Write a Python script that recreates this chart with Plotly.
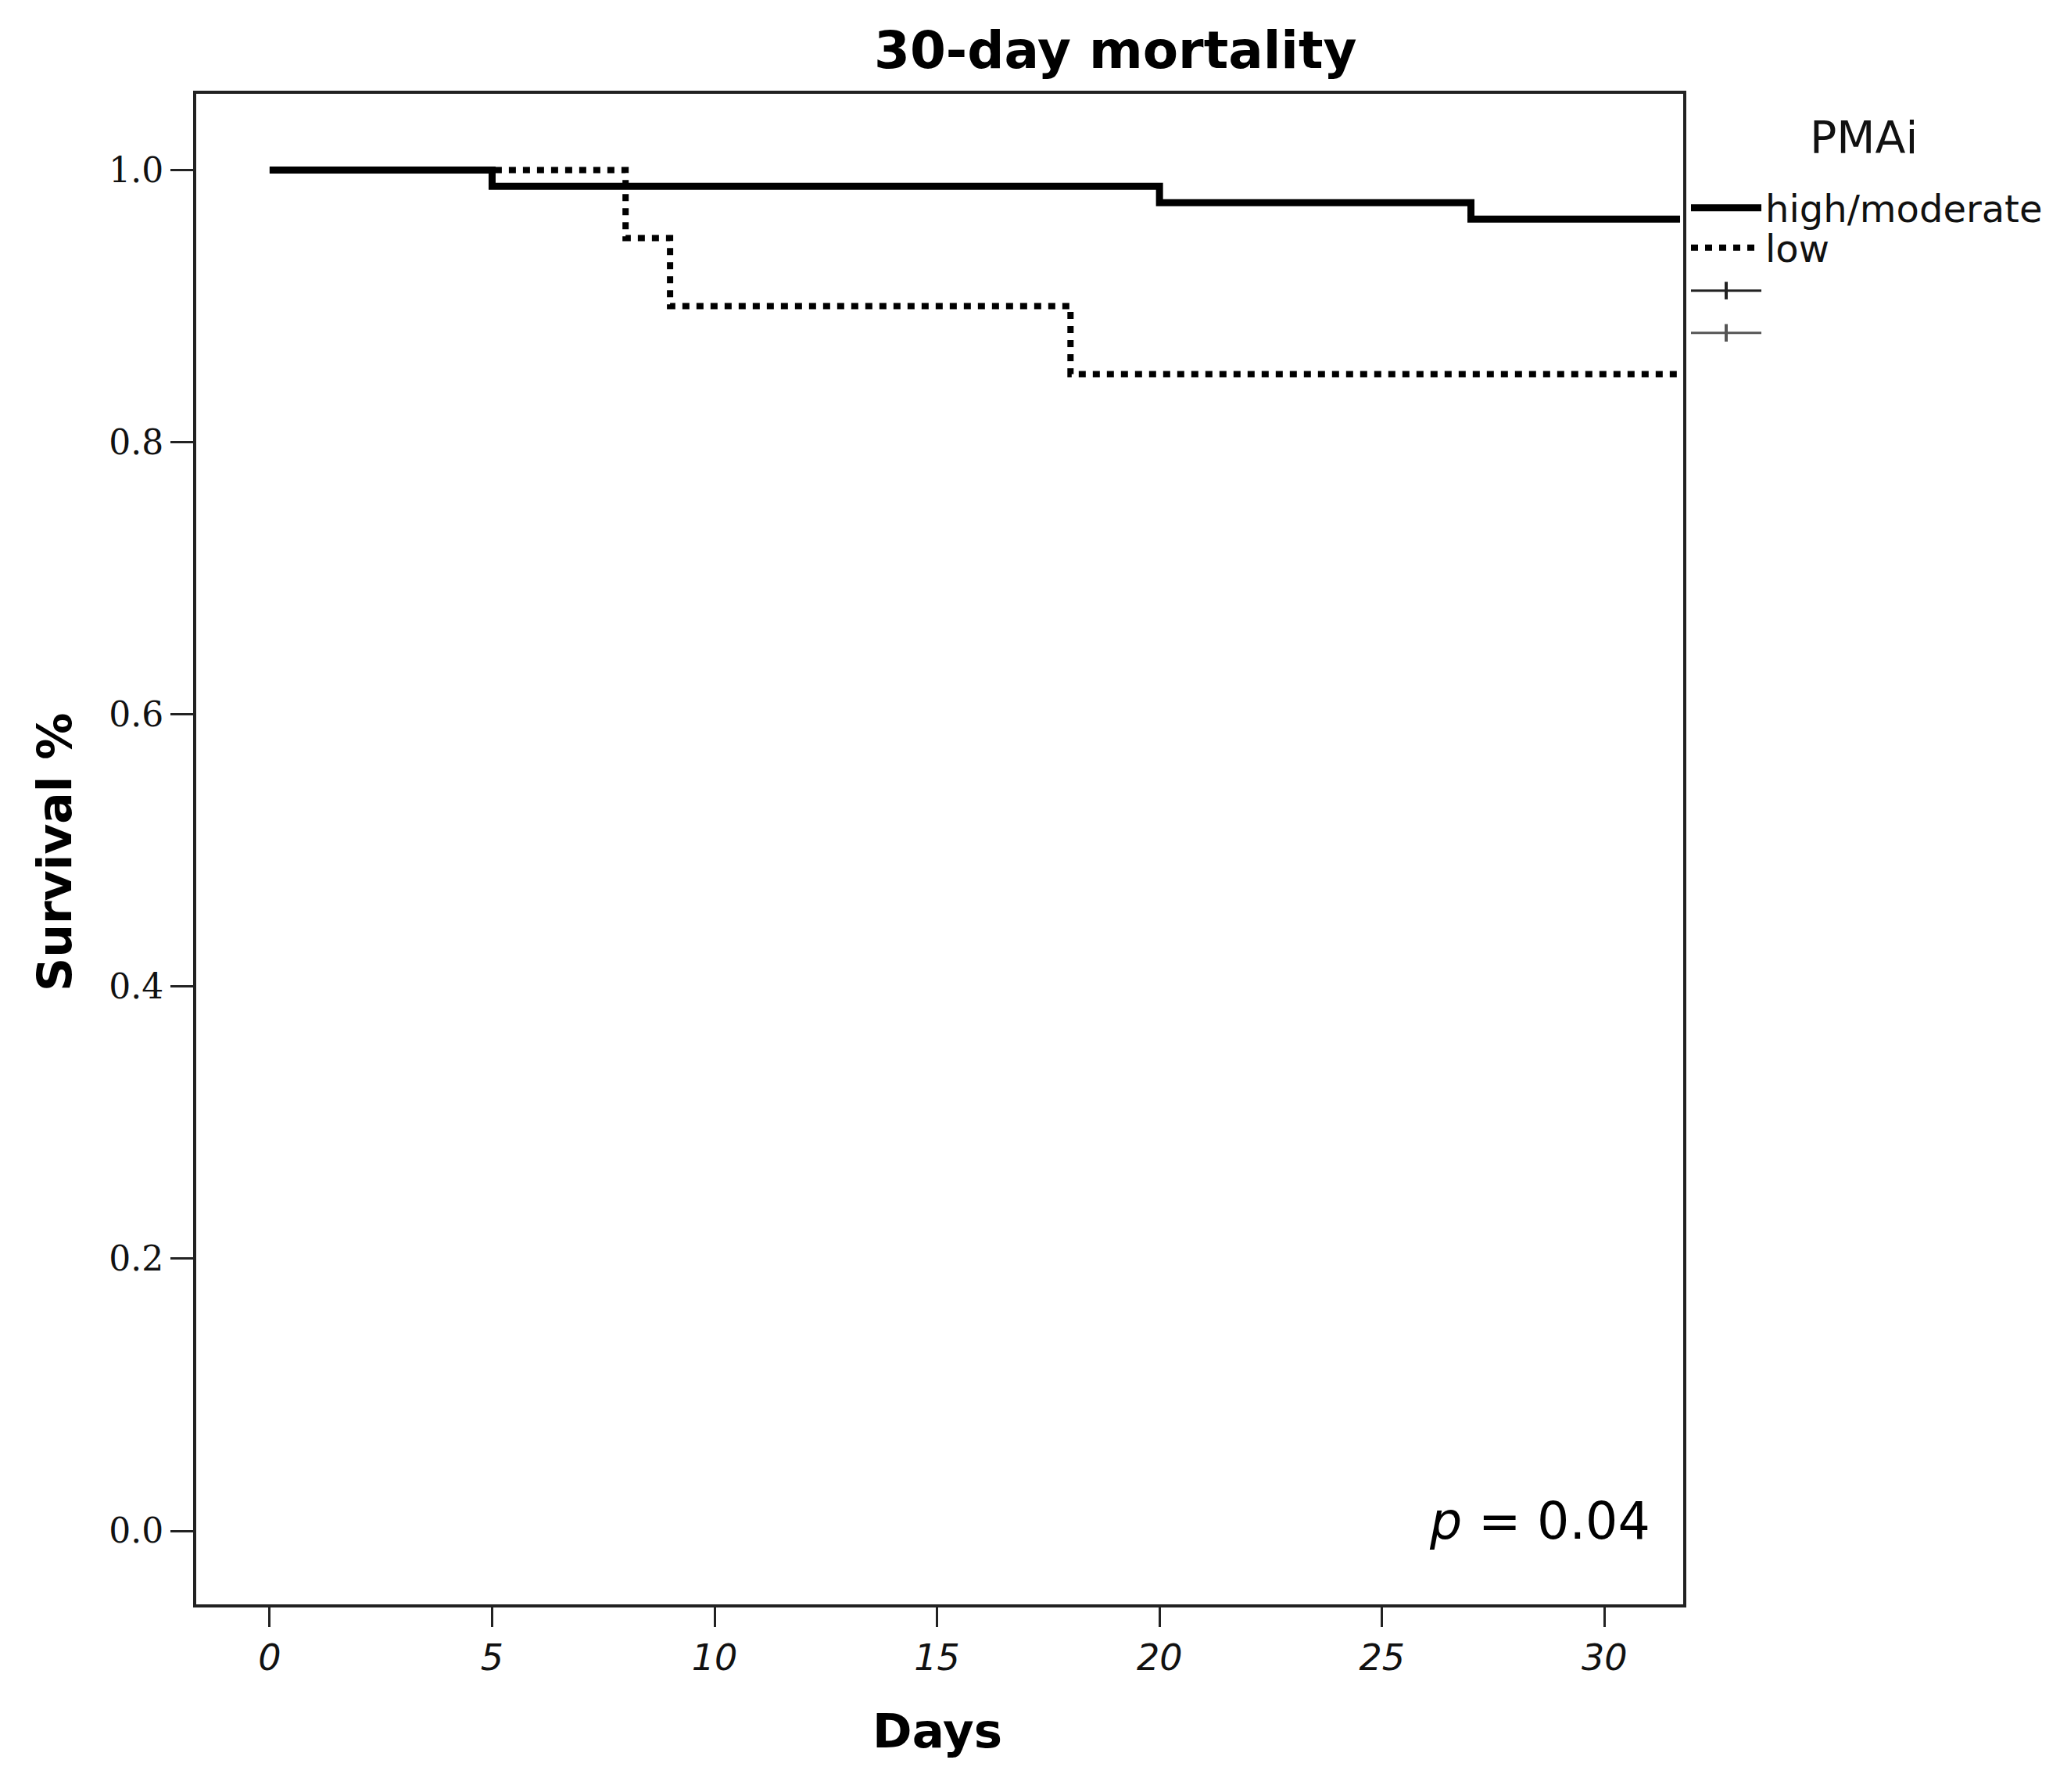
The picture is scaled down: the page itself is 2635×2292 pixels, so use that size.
import plotly.graph_objects as go

# ---- data ----
hm_time = [0, 5, 20, 27, 31.7]
hm_surv = [1.0, 0.988, 0.976, 0.964, 0.964]
low_time = [0, 8, 9, 18, 31.7]
low_surv = [1.0, 0.95, 0.90, 0.85, 0.85]
group_names = ["high/moderate", "low"]
legend_title = "PMAi"
x_ticks = [0, 5, 10, 15, 20, 25, 30]
y_ticks = [0.0, 0.2, 0.4, 0.6, 0.8, 1.0]
y_tick_labels = ["0.0", "0.2", "0.4", "0.6", "0.8", "1.0"]
title_text = "30-day mortality"
p_text = "<i>p</i> = 0.04"

W, H = 2635, 2292
L, R, T, B = 243, 490, 112, 248
PW, PH = W - L - R, H - T - B


def px(xr):
    return (xr - L) / PW


def py(yr):
    return (H - B - yr) / PH


fig = go.Figure()
fig.add_trace(go.Scatter(x=hm_time, y=hm_surv, mode="lines", line_shape="hv",
                         line=dict(color="black", width=9), name=group_names[0],
                         legend="legend"))
fig.add_trace(go.Scatter(x=low_time, y=low_surv, mode="lines", line_shape="hv",
                         line=dict(color="black", width=8, dash="9px,9px"),
                         name=group_names[1], legend="legend2"))
# censored legend entries
fig.add_trace(go.Scatter(x=[None], y=[None], mode="lines+markers", name=" ",
                         line=dict(color="#222", width=3), legend="legend3",
                         marker=dict(symbol="line-ns", size=40,
                                     line=dict(color="#222", width=4))))
fig.add_trace(go.Scatter(x=[None], y=[None], mode="lines+markers", name=" ",
                         line=dict(color="#555", width=3), legend="legend4",
                         marker=dict(symbol="line-ns", size=40,
                                     line=dict(color="#555", width=4))))

leg_font = dict(family="DejaVu Sans", size=48, color="#111")
leg_x = px(2150)
rows = [258, 309, 364, 418]


def leg(yr):
    return dict(x=leg_x, xanchor="left", y=py(yr), yanchor="middle",
                font=leg_font, itemwidth=90, bgcolor="rgba(0,0,0,0)")


fig.update_layout(
    width=W, height=H,
    margin=dict(l=L, r=R, t=T, b=B),
    paper_bgcolor="white", plot_bgcolor="white",
    font=dict(family="DejaVu Sans", color="black"),
    showlegend=True,
    legend=leg(rows[0]), legend2=leg(rows[1]), legend3=leg(rows[2]), legend4=leg(rows[3]),
    xaxis=dict(range=[-1.65, 31.77], tickvals=x_ticks, ticks="outside", ticklen=25,
               tickwidth=3, tickcolor="#222", showgrid=False, zeroline=False,
               showline=True, linecolor="#222", linewidth=4, mirror=True,
               tickfont=dict(family="DejaVu Sans", size=46, style="italic", color="#111")),
    yaxis=dict(range=[-0.054, 1.056], tickvals=y_ticks, ticktext=y_tick_labels,
               ticks="outside", ticklen=29, tickwidth=3, tickcolor="#222",
               showgrid=False, zeroline=False, showline=True, linecolor="#222",
               linewidth=4, mirror=True,
               tickfont=dict(family="DejaVu Serif", size=44, color="#111")),
    annotations=[
        dict(text="<b>" + title_text + "</b>", xref="paper", yref="paper",
             x=px(1419), y=py(57), xanchor="center", yanchor="middle",
             showarrow=False, font=dict(family="DejaVu Sans", size=66, color="black")),
        dict(text="<b>Days</b>", xref="paper", yref="paper",
             x=px(1191), y=py(2205), xanchor="center", yanchor="middle",
             showarrow=False, font=dict(family="DejaVu Sans", size=61, color="black")),
        dict(text="<b>Survival %</b>", xref="paper", yref="paper",
             x=px(62), y=py(1082), xanchor="center", yanchor="middle", textangle=-90,
             showarrow=False, font=dict(family="DejaVu Sans", size=60, color="black")),
        dict(text=p_text, xref="paper", yref="paper",
             x=px(2105), y=py(1937), xanchor="right", yanchor="middle",
             showarrow=False, font=dict(family="DejaVu Sans", size=65, color="black")),
        dict(text=legend_title, xref="paper", yref="paper",
             x=px(2376), y=py(168), xanchor="center", yanchor="middle",
             showarrow=False, font=dict(family="DejaVu Sans", size=57, color="#111")),
    ],
)

fig.write_html("out.html")
